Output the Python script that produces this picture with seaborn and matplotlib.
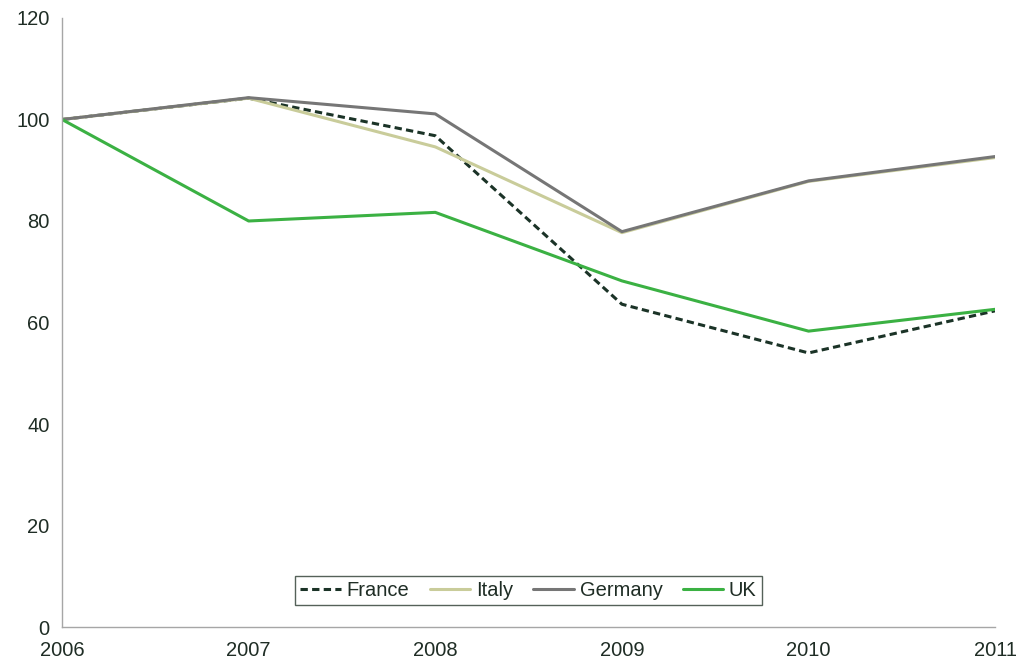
import matplotlib
matplotlib.use("Agg")
import matplotlib.pyplot as plt
import pandas as pd
import seaborn as sns

years = [2006, 2007, 2008, 2009, 2010, 2011]
france = [100, 104.2, 96.8, 63.6, 54.0, 62.3]
italy = [100, 104.2, 94.6, 77.7, 87.8, 92.5]
germany = [100, 104.3, 101.1, 77.9, 87.9, 92.7]
uk = [100, 80.0, 81.7, 68.2, 58.3, 62.6]

series = ["France", "Italy", "Germany", "UK"]
colors = {"France": "#1b3327", "Italy": "#c9cc9a", "Germany": "#767676", "UK": "#3bb143"}

df = pd.DataFrame({"year": years * 4,
                   "value": france + italy + germany + uk,
                   "country": [s for s in series for _ in years]})

sns.set_style("white")
plt.rcParams['font.family'] = ['Liberation Sans', 'DejaVu Sans']
text_col = "#1f2d25"

fig = plt.figure(figsize=(10.27, 6.61), dpi=100)
ax = fig.add_axes([0.0604, 0.0514, 0.9086, 0.9214])

sns.lineplot(data=df, x="year", y="value", hue="country", style="country",
             hue_order=series, style_order=series, palette=colors,
             dashes={"France": (2.4, 1.4), "Italy": "", "Germany": "", "UK": ""},
             linewidth=2.2, ax=ax)

ax.set_xlim(2006, 2011)
ax.set_ylim(0, 120)
ax.set_xticks(years)
ax.set_yticks(range(0, 121, 20))
ax.set_xlabel("")
ax.set_ylabel("")
for s in ["top", "right"]:
    ax.spines[s].set_visible(False)
for s in ["left", "bottom"]:
    ax.spines[s].set_color("#a6a6a6")
    ax.spines[s].set_linewidth(1.0)
ax.tick_params(axis="both", colors="#a6a6a6", labelcolor=text_col, labelsize=14.5,
               direction="out", length=5, width=1)
ax.tick_params(axis="x", pad=5)
ax.tick_params(axis="y", pad=4)

leg = ax.legend(loc="lower center", bbox_to_anchor=(0.5, 0.02), ncol=4, fontsize=14.5,
                frameon=True, fancybox=False, handlelength=2.0, handletextpad=0.3,
                columnspacing=1.0, borderpad=0.25, labelcolor=text_col)
leg.get_frame().set_edgecolor("#2a3a30")
leg.get_frame().set_linewidth(1.0)

fig.savefig("out.png", dpi=100)
